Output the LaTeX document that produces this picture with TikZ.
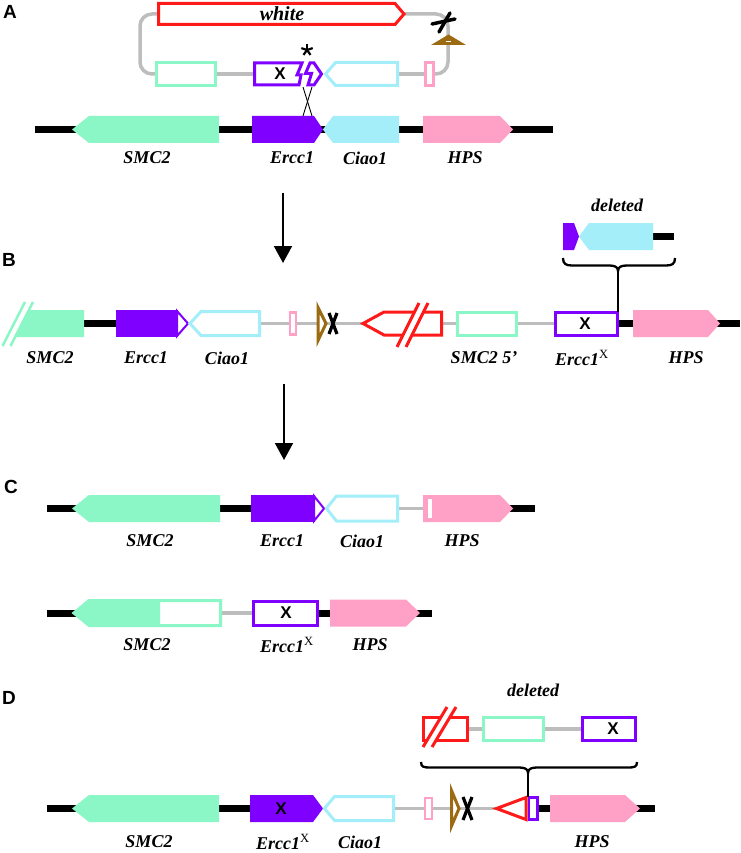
\documentclass[tikz,border=0pt]{standalone}
\usepackage{fontspec}
\setmainfont{Liberation Serif}
\setsansfont{Liberation Sans}
\usetikzlibrary{arrows.meta}
\definecolor{mint}{HTML}{8CF7C6}
\definecolor{purp}{HTML}{8000FF}
\definecolor{cyn}{HTML}{A4EEF9}
\definecolor{pnk}{HTML}{FFA0C6}
\definecolor{redc}{HTML}{FF1A1A}
\definecolor{brn}{HTML}{9C6A12}
\definecolor{gry}{HTML}{BDBDBD}
% right / left pointing gene: style, x1, x2, y, head length, half height
\newcommand\arrR[6]{\path[#1] (#2,#4-#6) -- (#3-#5,#4-#6) -- (#3,#4) -- (#3-#5,#4+#6) -- (#2,#4+#6) -- cycle;}
\newcommand\arrL[6]{\path[#1] (#3,#4-#6) -- (#2+#5,#4-#6) -- (#2,#4) -- (#2+#5,#4+#6) -- (#3,#4+#6) -- cycle;}
\begin{document}
\begin{tikzpicture}[x=1pt,y=-1pt,
 backbone/.style={line width=7pt,black},
 greyline/.style={line width=3.5pt,gry},
 ol/.style={line width=3pt,fill=white,line join=miter},
 lab/.style={font=\fontsize{18}{20}\selectfont\bfseries\itshape,inner sep=0pt},
 panel/.style={font=\fontsize{19}{20}\selectfont\sffamily\bfseries,inner sep=0pt},
 xmark/.style={font=\fontsize{17}{18}\selectfont\sffamily\bfseries,inner sep=0pt},
 bigx/.style={line width=3.2pt,black},
 downarrow/.style={line width=2pt,-{Triangle[width=18pt,length=17pt]}},
 brace/.style={line width=2.3pt,black}]
\useasboundingbox (0,0) rectangle (740,853);
\fill[white] (0,0) rectangle (740,853);

% ================= PANEL A =================
\node[panel] (pA) at (10,12) {A};
% construct loop
\draw[greyline,rounded corners=12pt] (158,14) -- (140,14) -- (140,74) -- (156,74);
\draw[greyline,rounded corners=12pt] (433,74) -- (448,74) -- (448,14) -- (404,14);
\draw[greyline] (216,74) -- (254,74);
\draw[greyline] (397,74) -- (425,74);
\arrR{draw=redc,ol}{158.5}{404}{14}{9}{10.5}
\node[lab,font=\fontsize{20}{22}\selectfont\bfseries\itshape] (twhite) at (282,14) {white};
\path[draw=mint,ol] (156.5,62.5) rectangle (215.5,85.5);
\path[draw=purp,ol] (254.5,63) -- (302,63) -- (297,75) -- (301,75) -- (299,85) -- (254.5,85) -- cycle;
\node[xmark] (xA) at (280,74) {X};
\path[draw=purp,ol] (310,63) -- (314,63) -- (321.5,74) -- (314,85) -- (308,85) -- (311.5,73.5) -- (305.5,73.5) -- cycle;
\arrL{draw=cyn,ol}{325.5}{397.5}{74}{10}{11.5}
\path[draw=pnk,ol,line width=2.5pt] (425.5,62.5) rectangle (433.5,85.5);
% asterisk
\coordinate (ast) at (307,50);
\foreach \dx/\dy in {0/-6, 5.7/-1.9, 3.5/4.9, -3.5/4.9, -5.7/-1.9}
  \draw[line width=2.2pt] (ast) -- ++(\dx,\dy);
% recombination cross
\draw[line width=0.9pt] (303,87) -- (312,116);
\draw[line width=0.9pt] (312,87) -- (303,116);
% brown site and cross
\fill[brn] (431,45) -- (466,45) -- (448.5,34.5) -- cycle;
\draw[white,line width=1.4pt] (446,41.5) -- (451,41.5);
\draw[line width=3.5pt,line cap=round] (439,32) -- (450,13);
\draw[line width=3.5pt,line cap=round] (432,24) -- (455,19);
% genomic locus
\draw[backbone] (35,129.5) -- (553,129.5);
\arrL{fill=mint}{72}{219}{129.5}{17}{13.5}
\arrR{fill=purp}{252}{323}{129.5}{9}{13.5}
\arrL{fill=cyn}{323}{399}{129.5}{10}{13.5}
\arrR{fill=pnk}{423}{513}{129.5}{13}{13.5}
\node[lab] (lA1) at (147,158) {SMC2};
\node[lab] (lA2) at (292,158) {Ercc1};
\node[lab] (lA3) at (365,158) {Ciao1};
\node[lab] (lA4) at (465,158) {HPS};

% arrow 1
\coordinate (a1s) at (283,193);
\coordinate (a1e) at (283,263);
\draw[downarrow] (a1s) -- (a1e);

% ================= PANEL B =================
\node[panel] (pB) at (9,259.5) {B};
\draw[greyline] (259,323.5) -- (556,323.5);
\draw[backbone] (84,323.5) -- (117,323.5);
\draw[backbone] (618,323.5) -- (740,323.5);
% SMC2 broken
\fill[mint] (15,337) -- (29,310) -- (84,310) -- (84,337) -- cycle;
\draw[mint,line width=2.5pt] (2.5,346) -- (25,302);
\draw[mint,line width=2.5pt] (10.5,346) -- (33,302);
% Ercc1
\fill[purp] (116,310) rectangle (178,337);
\path[draw=purp,fill=white,line width=2pt] (177,311) -- (188,323.5) -- (177,336) -- cycle;
\arrL{draw=cyn,ol}{190}{259.5}{323.5}{11}{12}
\path[draw=pnk,ol,line width=2.5pt] (290.2,312.5) rectangle (295.8,334.5);
\path[draw=brn,ol] (318,307.5) -- (326,323.5) -- (318,340.5) -- cycle;
\draw[bigx] (329,313) -- (337,334);
\draw[bigx] (337,313) -- (329,334);
% white, reversed and broken
\path[draw=redc,ol] (363,323.5) -- (384,312) -- (441.5,312) -- (441.5,335) -- (384,335) -- cycle;
\fill[white] (397,347) -- (419,303) -- (428,303) -- (406,347) -- cycle;
\draw[redc,line width=3pt] (397,347) -- (419,303);
\draw[redc,line width=3pt] (406,347) -- (428,303);
\path[draw=mint,ol] (457.5,312.5) rectangle (516.5,335);
\path[draw=purp,ol] (555.5,312.5) rectangle (617.5,335.5);
\node[xmark] (xB) at (585,324) {X};
\arrR{fill=pnk}{633}{720}{323.5}{12}{13.5}
\node[lab] (lB1) at (50,358) {SMC2};
\node[lab] (lB2) at (146,358) {Ercc1};
\node[lab] (lB3) at (227,358) {Ciao1};
\node[lab] (lB4) at (484,358) {SMC2 5’};
\node[lab] (lB5) at (582,358) {Ercc1\textsuperscript{\mdseries\upshape X}};
\node[lab] (lB6) at (686,358) {HPS};
% deleted fragment
\node[lab] (delB) at (617,205) {deleted};
\draw[backbone] (650,236.5) -- (674,236.5);
\fill[purp] (563,223) -- (574,223) -- (579,236.5) -- (574,250) -- (563,250) -- cycle;
\arrL{fill=cyn}{579}{653}{236.5}{10}{13.5}
\draw[brace] (563,258) .. controls (563,264) and (566,265.5) .. (572,265.5) -- (609,265.5) .. controls (614,265.5) and (618,266.5) .. (618,271) .. controls (618,266.5) and (622,265.5) .. (627,265.5) -- (666,265.5) .. controls (672,265.5) and (675,264) .. (675,258);
\coordinate (bBtop) at (618,270);
\coordinate (bBbot) at (618,312);
\draw[brace] (bBtop) -- (bBbot);

% arrow 2
\coordinate (a2s) at (284,384);
\coordinate (a2e) at (284,460);
\draw[downarrow] (a2s) -- (a2e);

% ================= PANEL C =================
\node[panel] (pC) at (11,487) {C};
\draw[backbone] (47,508.5) -- (253,508.5);
\draw[greyline] (396,508.5) -- (425,508.5);
\draw[backbone] (505,508.5) -- (535,508.5);
\arrL{fill=mint}{72}{220}{508.5}{17}{13.5}
\fill[purp] (251,495) rectangle (315,522);
\path[draw=purp,fill=white,line width=2pt] (314,496) -- (324,508.5) -- (314,521) -- cycle;
\arrL{draw=cyn,ol}{326.5}{397.5}{508.5}{10}{12.5}
\arrR{fill=pnk}{423}{513}{508.5}{13}{13.5}
\fill[white] (427.5,499) rectangle (431.5,518);
\node[lab] (lC1) at (150,541) {SMC2};
\node[lab] (lC2) at (282,541) {Ercc1};
\node[lab] (lC3) at (362,541) {Ciao1};
\node[lab] (lC4) at (462,541) {HPS};
% row 2
\draw[backbone] (47,613) -- (160,613);
\draw[greyline] (219,613) -- (256,613);
\draw[backbone] (316,613) -- (432,613);
\fill[mint] (72,613) -- (88,599.5) -- (160,599.5) -- (160,626.5) -- (88,626.5) -- cycle;
\arrL{draw=mint,line width=3pt,line join=miter}{74}{220.5}{613}{15.5}{12.5}
\path[draw=purp,ol] (253.5,601) rectangle (317.5,625);
\node[xmark] (xC) at (286,613) {X};
\arrR{fill=pnk}{330}{420}{613}{14}{13.5}
\node[lab] (lC5) at (147,645) {SMC2};
\node[lab] (lC6) at (287,645) {Ercc1\textsuperscript{\mdseries\upshape X}};
\node[lab] (lC7) at (370,645) {HPS};

% ================= PANEL D =================
\node[panel] (pD) at (9,698) {D};
\draw[backbone] (47,808.5) -- (252,808.5);
\draw[greyline] (393,808.5) -- (497,808.5);
\draw[backbone] (536,808.5) -- (655,808.5);
\arrL{fill=mint}{72}{219}{808.5}{17}{13.5}
\arrR{fill=purp}{250}{323}{808.5}{10}{13.5}
\node[xmark] (xD) at (281,808.5) {X};
\arrL{draw=cyn,ol}{324.5}{393.5}{808.5}{10}{12}
\path[draw=pnk,ol,line width=2.5pt] (425,798) rectangle (432,819);
\path[draw=brn,ol] (451.5,790.5) -- (459,808.5) -- (451.5,826) -- cycle;
\draw[bigx] (463,797) -- (472,820);
\draw[bigx] (472,797) -- (463,820);
\path[draw=redc,ol] (526,797.5) -- (496.5,808.5) -- (526,819.5) -- cycle;
\path[draw=purp,ol,line width=2.5pt] (529,797.5) rectangle (537.5,819.5);
\arrR{fill=pnk}{550}{640}{808.5}{15}{13.5}
\node[lab] (lD1) at (149,842) {SMC2};
\node[lab] (lD2) at (283,842) {Ercc1\textsuperscript{\mdseries\upshape X}};
\node[lab] (lD3) at (360,842) {Ciao1};
\node[lab] (lD4) at (592,842) {HPS};
% deleted fragment
\node[lab] (delD) at (533,690) {deleted};
\draw[greyline] (467,729) -- (584,729);
\path[draw=redc,ol] (423.5,717.5) rectangle (467.5,740.5);
\fill[white] (423,747) -- (447,707) -- (456,707) -- (432,747) -- cycle;
\draw[redc,line width=3pt] (423,747) -- (447,707);
\draw[redc,line width=3pt] (432,747) -- (456,707);
\path[draw=mint,ol] (483,717.5) rectangle (543.5,740.5);
\path[draw=purp,ol] (582.5,717.5) rectangle (635.5,740.5);
\node[xmark] (xD2) at (613,729) {X};
\draw[brace] (421,762) .. controls (421,767) and (424,767.5) .. (430,767.5) -- (519,767.5) .. controls (524,767.5) and (528,768.5) .. (528,773) .. controls (528,768.5) and (532,767.5) .. (537,767.5) -- (628,767.5) .. controls (634,767.5) and (637,767) .. (637,762);
\coordinate (bDtop) at (528,772);
\coordinate (bDbot) at (528,797);
\draw[brace] (bDtop) -- (bDbot);
\end{tikzpicture}
\end{document}
